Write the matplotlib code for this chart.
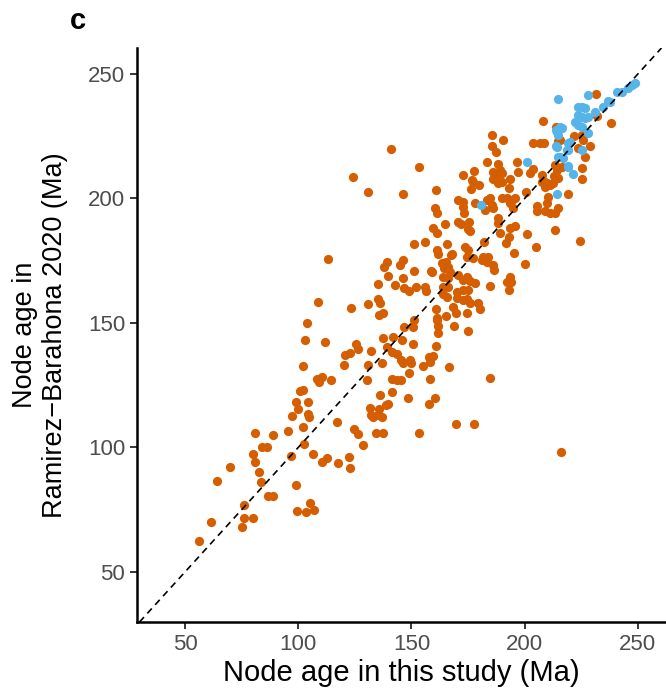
import numpy as np
import matplotlib
matplotlib.use("Agg")
from matplotlib import pyplot as plt
#
plt.rcParams['font.family'] = ['Liberation Sans', 'DejaVu Sans']
#
# node ages (Ma): x = this study, y = Ramirez-Barahona 2020
other_x = [81,89,95.5,84,86,97,80,70,81,82.7,64,83.6,86.6,89,99,99.4,76,76,80,75.2,61.5,56.2,
    103,111.8,125.5,126.4,122.8,120.6,132,120.2,130.8,102,110.5,108.3,109.2,114.5,130.4,100.8,102,
    104.3,99,99.9,104.3,104.7,97.2,117.1,102,102.5,106.5,110.5,112.7,117.5,122.4,124.6,126.4,128.6,
    131.7,132.1,133,135.2,134.3,136.1,122.8,
    113.1,108.7,123.3,130.8,135.2,135.2,136,135.6,103.9,
    146.7,151.1,161.3,161.7,161.7,168.8,175,137.4,141.8,145.8,150.7,139.2,141.4,143.6,160.8,137,
    145.4,146.2,149.3,149.8,155.1,157.7,159.5,158.2,166.6,148.9,141.4,143.6,145.4,158.2,141.4,148.5,
    160.4,157.7,139.6,138.7,135.6,137,137.4,153.3,169.6,
    160.4,161.3,170.5,172.7,173.2,170.5,171.9,164.8,159.5,161.3,156,151.1,165.7,173.6,175,161.3,161.7,
    167.9,174.5,139.2,137.9,146.2,144.9,163.5,165.2,166.1,164.3,151.1,158.6,139.6,146.2,163.9,166.1,
    170.5,172.7,174.5,142.7,146.7,148.9,152,156,156.4,163.9,166.1,170.1,172.7,175,163.9,165.7,170.1,
    172.7,174.5,137.4,160.8,165.2,168.3,169.6,161.3,150.7,
    141,153.3,124.2,130.8,146.2,160.8,172.7,177.6,176.7,177.2,179.8,176.3,178,
    175.4,175,175.8,188.2,189.1,193.5,195.7,193,191.7,201,213.4,182,167.4,177.2,181.6,183.8,181.1,
    183.3,195.3,205,186,186.4,200.1,167,159,175.8,178,184.7,192.2,193.5,193.9,193,175.8,179.4,180.2,
    174.5,
    185.5,190.4,185.5,187.3,183.3,188.2,189.1,186,187.7,190,186,188.2,190,193.5,193,196.6,197,202.3,
    203.6,203.6,206.7,208.5,208,213.8,214.7,213.4,207.6,208.9,211.1,214.2,214.7,200.6,210.3,184.7,
    183.3,190,192.2,194.4,195.7,172.7,182.5,186,185.5,188.2,193.5,194.8,205.4,205.4,208.9,211.1,
    213.4,214.7,209.8,
    231.5,231.9,238.1,215.6,221.7,225.3,225.7,223.5,228.8,226.6,216.4,225.3,
    225.3,212.9,207.6,209.8,212.5,208.9,219.1,224.4,
    184.7,177.6,216,105.2,103.4,107]
other_y = [106,105,106.6,100,100,96.6,97.4,92,94,90,86.5,86,80.5,80.5,85,74.5,77,71.7,71.7,68,70,62.4,
    143,142.4,141.6,139.6,138,137,138.8,133,133,132.7,128.3,127.5,126.3,127,127,122.7,123,
    118.3,118.3,115.5,113.5,112.2,112.7,110.2,108.2,101.4,97.4,94.2,95.8,93.8,96.2,107.4,105.4,101,
    115.9,113,112.2,113,105.8,121,91.8,
    175.7,158.4,156,157.6,165.7,159.6,158,153.2,150,
    148.4,151.2,151.2,148.8,146,148.8,146.8,144,144.4,143.2,141.6,140.4,138.4,137.6,140.8,133.9,
    135.1,133.9,135.1,133.9,132.7,136.3,136.7,134.3,132.3,129.9,127.5,127.1,127.1,127.5,122.3,119.9,
    119.9,117.5,117.5,117.1,115.5,112.3,105.8,105.8,109.4,
    196.2,194.2,199.4,198.6,194.2,190.6,189.8,189.8,188.2,186.1,182.5,181.7,181.7,180.5,179.3,179.3,177.7,
    177.7,176.5,174.5,172.5,175.3,173.3,174.1,174.5,172.5,172.1,170.9,170.9,168.9,168.1,168.5,168.1,
    169.3,167.3,168.5,165.3,164.1,162.9,164.5,164.5,162.9,164.5,164.5,162.4,163.3,163.3,161.6,160.4,160,
    159.2,159.6,154,155.6,152.8,156.4,154,152,148.4,
    219.9,212.7,208.6,202.6,201.8,203.4,209.4,211,207.4,206.6,205.4,203.8,198.2,
    190.6,187.8,186.9,190.2,186.1,188.2,189,184.5,182.1,185.7,187.3,182.5,177.3,176.1,176.5,176.5,175.3,
    174.5,178.1,180.5,173.3,171.3,173.7,170.5,170.5,166.9,166.1,164.9,166.5,168.5,166.5,163.3,158,158,155.6,
    154,
    225.5,223.5,221.1,218.7,214.7,213.9,211.4,210.6,209.4,210.2,207.8,206.2,206.6,207.8,204.2,214.7,210.6,210.2,
    211.8,222.3,222.3,222.3,231.1,228.7,223.1,213.5,209.4,206.6,205.4,211.4,208.2,202.6,200.6,200.2,
    199.4,200.2,200.2,199.4,200.2,196.6,195.4,196.2,197.4,192.2,198.2,196.2,197,195,195,194.2,
    194.2,196.2,198.2,
    242,233.1,230.3,223.5,225.1,225.5,223.5,220.3,221.1,216.7,212.7,212.2,
    207.8,209,206.6,206.2,206.2,204.6,201.8,183,
    127.9,109.4,98.2,77.7,74.1,74.9]
#
sl_x = [214.7,227.9,240.7,242.9,245.6,247.4,248.7,237.6,236.8,234.5,223.5,225.3,226.6,231,223.5,225.3,
    226.6,227.9,222.2,223.5,225.3,215.6,216.4,214.2,214.7,227.9,219.1,220,218.7,219.1,214.2,225.3,
    215.6,216.9,219.1,201,180.7,213.8,213.8,214.7,214.2,219.1,221.3]
sl_y = [240,241.6,242.8,242.8,244.4,245.6,246.4,238.8,239.2,236.7,236.7,236.7,236.3,234.7,233.5,232.7,
    232.3,232.7,230.7,229.5,228.7,228.7,228.3,226.7,225.5,226.3,222.3,222.7,219.5,219.5,220.7,219.5,
    216.7,216.3,213.1,214.7,197.4,227.5,221.1,216.7,201.8,212.7,209.8]
#
ORANGE = "#D55E00"
BLUE = "#56B4E9"
#
fig = plt.figure(figsize=(6.66, 6.88), dpi=100)
ax = fig.add_axes([0.2057, 0.0959, 0.7943, 0.8343])
ax.scatter(other_x, other_y, s=44, color=ORANGE, linewidths=0, zorder=2)
ax.scatter(sl_x, sl_y, s=44, color=BLUE, linewidths=0, zorder=3)
ax.axline((0, 0), slope=1, color="black", linestyle=(0, (4, 3)), linewidth=1.2, zorder=4)
#
ax.set_xlim(28.8, 262.4)
ax.set_ylim(29.9, 260.4)
ticks = [50, 100, 150, 200, 250]
ax.set_xticks(ticks)
ax.set_yticks(ticks)
ax.tick_params(labelsize=16, labelcolor="#4D4D4D", length=5, width=1.1, direction="out")
for side in ["top", "right"]:
    ax.spines[side].set_visible(False)
for side in ["left", "bottom"]:
    ax.spines[side].set_linewidth(1.8)
ax.set_xlabel("Node age in this study (Ma)", fontsize=21, labelpad=3)
ax.set_ylabel("Node age in\nRamirez\u2212Barahona 2020 (Ma)", fontsize=19.5, labelpad=14)
fig.text(0.105, 0.97, "c", fontsize=21, fontweight="bold", ha="left", va="center")
#
fig.savefig("out.png", dpi=100)
